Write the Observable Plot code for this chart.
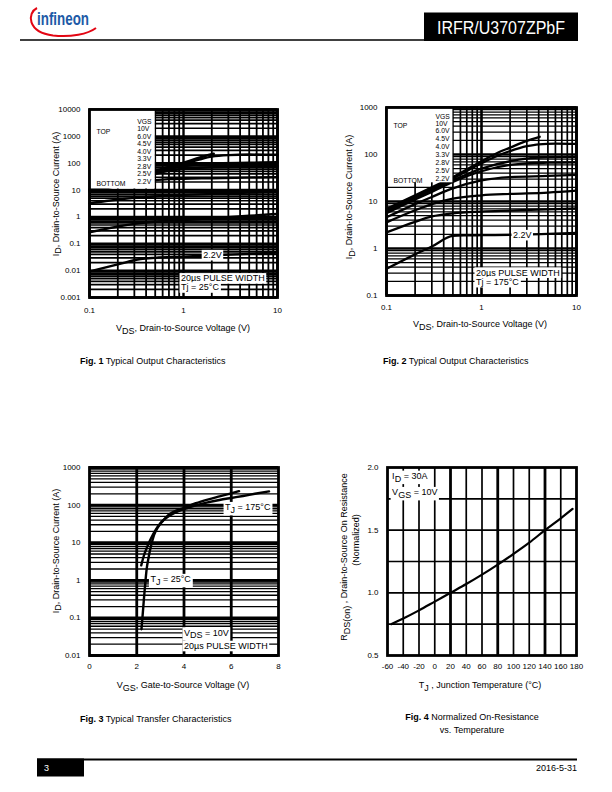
<!DOCTYPE html>
<html><head><meta charset="utf-8">
<script src="https://cdn.jsdelivr.net/npm/d3@7"></script>
<script src="https://cdn.jsdelivr.net/npm/@observablehq/plot@0.6"></script>
<style>
html,body{margin:0;padding:0;background:#fff;}
#page{position:relative;width:612px;height:792px;overflow:hidden;font-family:"Liberation Sans",Arial,Helvetica,sans-serif;color:#000;}
.fig{position:absolute;}
.fig svg{overflow:visible;}
.cap{position:absolute;font-size:9px;line-height:10px;white-space:nowrap;}
</style></head>
<body><div id="page">
<svg width="612" height="50" style="position:absolute;left:0;top:0">
  <path d="M37,8 C27,13 27,32 53,35.5 C71,37.5 88,34 96,28" fill="none" stroke="#e30613" stroke-width="2"/>
  <text x="37" y="25" font-size="18" font-weight="bold" fill="#1d5aa6" textLength="52" lengthAdjust="spacingAndGlyphs" font-family="Liberation Sans, Arial">infineon</text>
  <line x1="20" y1="40" x2="424" y2="40" stroke="#000" stroke-width="1.5"/>
  <rect x="424" y="12.5" width="154" height="28.5" fill="#000"/>
  <text x="437" y="33.5" font-size="18" fill="#fff" textLength="128" lengthAdjust="spacingAndGlyphs" font-family="Liberation Sans, Arial">IRFR/U3707ZPbF</text>
</svg>
<svg width="612" height="40" style="position:absolute;left:0;top:752px">
  <rect x="37" y="6.5" width="540" height="2" fill="#000"/>
  <rect x="37" y="6.5" width="47" height="18" fill="#000"/>
  <text x="44" y="19" fill="#fff" font-size="9" font-family="Liberation Sans, Arial">3</text>
  <text x="577" y="19" text-anchor="end" font-size="9" font-family="Liberation Sans, Arial">2016-5-31</text>
</svg>
<div class="cap" style="left:80px;top:356px"><b>Fig. 1</b> Typical Output Characteristics</div>
<div class="cap" style="left:383px;top:356px"><b>Fig. 2</b> Typical Output Characteristics</div>
<div class="cap" style="left:80px;top:714px"><b>Fig. 3</b> Typical Transfer Characteristics</div>
<div class="cap" style="left:392px;top:710.5px;width:160px;text-align:center;line-height:13px"><b>Fig. 4</b> Normalized On-Resistance<br>vs. Temperature</div>
</div>
<script>
// ---------- data ----------
const VGS_LABELS = ["10V","6.0V","4.5V","4.0V","3.3V","2.8V","2.5V","2.2V"];
const X_TICKS_VDS = [0.1, 1, 10];
const Y_TICKS_FIG1 = [0.001, 0.01, 0.1, 1, 10, 100, 1000, 10000];
const Y_TICKS_FIG2 = [0.1, 1, 10, 100, 1000];
const X_TICKS_FIG3 = [0, 2, 4, 6, 8];
const Y_TICKS_FIG3 = [0.01, 0.1, 1, 10, 100, 1000];
const X_TICKS_FIG4 = [-60,-40,-20,0,20,40,60,80,100,120,140,160,180];
const Y_TICKS_FIG4 = [0.5, 1.0, 1.5, 2.0];
const TJ_LABELS = ["25°C", "175°C"];

// Fig 1 : Tj = 25°C, [VDS, ID]
const fig1_10V = [[0.1,10.5],[0.2,21],[0.3,31],[0.5,50],[0.7,75],[1,105],[1.5,165],[2.1,225]];
const fig1_6V  = [[0.1,10.3],[0.2,20.5],[0.3,30],[0.5,48],[0.7,70],[1,95],[1.5,140],[2,175],[3,200],[5,210],[10,208]];
const fig1_45V = [[0.1,10],[0.2,19],[0.3,28],[0.5,44],[0.7,60],[1,78],[1.5,92],[2,98],[5,104],[10,108]];
const fig1_4V  = [[0.1,9.5],[0.2,18],[0.3,26],[0.5,40],[0.7,52],[1,62],[1.5,68],[2,71],[5,75],[10,78]];
const fig1_33V = [[0.1,8.5],[0.2,14.5],[0.3,19],[0.5,23.5],[0.7,25.5],[1,26.5],[2,27.5],[5,29],[10,30]];
const fig1_28V = [[0.1,3.2],[0.15,3.9],[0.2,4.4],[0.3,5.1],[0.5,5.8],[1,6.6],[2,7.2],[5,8],[10,8.7]];
const fig1_25V = [[0.1,0.27],[0.15,0.36],[0.2,0.44],[0.3,0.55],[0.5,0.66],[1,0.76],[2,0.9],[5,1.1],[10,1.3]];
const fig1_22V = [[0.1,0.0093],[0.2,0.017],[0.35,0.027],[0.5,0.03],[1,0.033],[2,0.037],[5,0.042],[10,0.047]];

// Fig 2 : Tj = 175°C, [VDS, ID]
const fig2_10V = [[0.1,7],[0.2,13.5],[0.3,20],[0.5,33],[1,72],[1.5,110],[2,140],[2.8,186],[4.1,238]];
const fig2_6V  = [[0.1,6.5],[0.2,13],[0.3,19],[0.5,31],[1,65],[1.5,95],[2,118],[3,150],[4,165],[6,170],[10,168]];
const fig2_45V = [[0.1,6],[0.2,12],[0.3,17.5],[0.5,28],[1,50],[2,72],[3,82],[5,87],[10,89]];
const fig2_4V  = [[0.1,5.6],[0.2,11],[0.3,16],[0.5,26],[1,44],[2,60],[3,65],[5,67],[10,68]];
const fig2_33V = [[0.1,4.6],[0.2,8.8],[0.3,12.5],[0.5,19],[1,28],[2,33],[5,35],[10,37]];
const fig2_28V = [[0.1,3.6],[0.2,6.5],[0.3,8.8],[0.5,11.5],[1,13.5],[2,14.5],[5,15.5],[10,17]];
const fig2_25V = [[0.1,2.2],[0.2,3.7],[0.3,4.8],[0.5,5.6],[1,6.1],[2,6.4],[5,6.8],[10,7.1]];
const fig2_22V = [[0.1,0.37],[0.2,0.75],[0.3,1.1],[0.5,1.85],[0.7,1.9],[1,1.92],[2,1.95],[5,2.05],[10,2.15]];

// Fig 3 : [VGS, ID]
const fig3_tj25  = [[2.2,0.05],[2.25,0.12],[2.3,0.3],[2.35,0.7],[2.42,2],[2.5,4],[2.6,8],[2.73,16],[2.9,26],[3.1,38],[3.3,52],[3.6,68],[4.0,85],[4.5,112],[5.0,140],[5.5,170],[6.0,205],[6.33,235]];
const fig3_tj175 = [[2.19,2.5],[2.3,4.5],[2.45,8],[2.6,13],[2.8,22],[3.0,33],[3.3,48],[3.6,62],[4.0,78],[4.5,98],[5.0,118],[5.5,137],[6.0,155],[6.5,175],[7.0,200],[7.6,232]];

// Fig 4 : normalized RDS(on) vs Tj
const fig4_tj  = [-55,-40,-20,0,20,40,60,80,100,120,140,160,175];
const fig4_rds = [0.75,0.795,0.86,0.93,1.0,1.07,1.145,1.225,1.31,1.40,1.50,1.595,1.67];

// ---------- helpers ----------
const FONT = '"Liberation Sans", Arial, Helvetica, sans-serif';
const M = {l:62, t:12, r:14, b:50};
const FIG1 = {l:89, t:109, w:188, h:188};
const FIG2 = {l:386, t:107, w:190, h:188};
const FIG3 = {l:89, t:467, w:189, h:188};
const FIG4 = {l:387, t:467, w:189, h:188};

function toRows(series, names) {
  return series.flatMap((pts, i) => pts.map(([x, y]) => ({s: names[i], x, y})));
}
function minors(e0, e1) { const v = []; for (let e = e0; e < e1; e++) for (let m = 2; m <= 9; m++) v.push(+(m * Math.pow(10, e)).toPrecision(6)); return v; }
function decades(e0, e1) { const v = []; for (let e = e0; e <= e1; e++) v.push(+Math.pow(10, e).toPrecision(6)); return v; }
function base(f) {
  return {width: M.l + f.w + M.r, height: M.t + f.h + M.b,
    marginLeft: M.l, marginTop: M.t, marginRight: M.r, marginBottom: M.b,
    style: {fontFamily: FONT, fontSize: "8px", color: "#000", background: "transparent", overflow: "visible"}};
}
function place(plot, f) {
  const div = document.createElement("div");
  div.className = "fig";
  div.style.left = (f.l - M.l) + "px";
  div.style.top = (f.t - M.t) + "px";
  div.appendChild(plot);
  document.getElementById("page").appendChild(div);
  return d3.select(plot);
}
function richText(svg, x, y, parts, opt = {}) {
  const size = opt.size || 9;
  const g = svg.append("g");
  const rect = opt.bg ? g.append("rect").attr("fill", "#fff") : null;
  const t = g.append("text").attr("font-size", size).attr("fill", "#000")
    .attr("font-family", FONT).attr("text-anchor", opt.anchor || "start");
  if (opt.rotate) t.attr("transform", `translate(${x},${y}) rotate(-90)`);
  else t.attr("x", x).attr("y", y);
  let low = false;
  for (const p of parts) {
    const sub = typeof p !== "string";
    const ts = t.append("tspan").text(sub ? p[0] : p);
    if (sub && !low) { ts.attr("dy", size * 0.32); low = true; }
    else if (!sub && low) { ts.attr("dy", -size * 0.32); low = false; }
  }
  if (rect) {
    const b = t.node().getBBox();
    rect.attr("x", b.x - 1.5).attr("y", b.y - 0.3).attr("width", b.width + 3).attr("height", b.height + 0.6);
  }
}
// annotation in data coordinates (through the plot's scales)
function note(plot, svg, xv, yv, parts, opt = {}) {
  const size = opt.size || 9;
  const px = plot.scale("x").apply(xv), py = plot.scale("y").apply(yv);
  richText(svg, px, py + size * 0.35, parts, {bg: true, ...opt});
}
// page-positioned titles
function pageText(svg, f, pageX, pageY, parts, opt = {}) {
  richText(svg, pageX - (f.l - M.l), pageY - (f.t - M.t), parts, opt);
}
function legendMarks(o) {
  const fs = 6.8;
  return [
    Plot.text(["VGS"], {frameAnchor: "top-left", dx: o.dx, dy: o.vgs, fontSize: fs, textAnchor: "start"}),
    Plot.text(["TOP"], {frameAnchor: "top-left", dx: o.dxl, dy: o.first, fontSize: fs, textAnchor: "start"}),
    Plot.text(["BOTTOM"], {frameAnchor: "top-left", dx: o.dxl, dy: o.last, fontSize: fs, textAnchor: "start"}),
    Plot.text([VGS_LABELS.join("\n")], {frameAnchor: "top-left", dx: o.dx, dy: (o.first + o.last) / 2,
      fontSize: fs, textAnchor: "start", lineAnchor: "middle", lineHeight: (o.last - o.first) / (VGS_LABELS.length - 1) / fs})
  ];
}

// ---------- Fig 1 ----------
{
  const rows = toRows([fig1_10V, fig1_6V, fig1_45V, fig1_4V, fig1_33V, fig1_28V, fig1_25V, fig1_22V], VGS_LABELS);
  const plot = Plot.plot({
    ...base(FIG1),
    x: {type: "log", domain: [0.1, 10], ticks: X_TICKS_VDS, tickFormat: d => `${d}`, tickSize: 0, tickPadding: 10, label: null},
    y: {type: "log", domain: [0.001, 10000], ticks: Y_TICKS_FIG1, tickFormat: d => `${d}`, tickSize: 0, tickPadding: 9, label: null},
    marks: [
      Plot.ruleX(minors(-1, 1), {stroke: "#000", strokeWidth: 1.8}),
      Plot.ruleX(decades(-1, 1), {stroke: "#000", strokeWidth: 2.4}),
      Plot.ruleY(minors(-3, 4), {stroke: "#000", strokeWidth: 1.7}),
      Plot.ruleY(decades(-3, 4), {stroke: "#000", strokeWidth: 2.4}),
      Plot.line(rows, {x: "x", y: "y", z: "s", stroke: "#000", strokeWidth: 2.4, curve: "monotone-x"}),
      Plot.rect([{x1: 0.1, x2: 0.5, y1: 11, y2: 10000}], {x1: "x1", x2: "x2", y1: "y1", y2: "y2", fill: "#fff"}),
      Plot.frame({stroke: "#000", strokeWidth: 2.8}),
      ...legendMarks({dx: 47.7, dxl: 7, vgs: 10, first: 19.3, last: 72})
    ]
  });
  const svg = place(plot, FIG1);
  note(plot, svg, 1.64, 0.0366, ["2.2V"]);
  note(plot, svg, 0.953, 0.0050, ["20µs PULSE WIDTH"]);
  note(plot, svg, 0.953, 0.00229, ["Tj = 25°C"]);
  pageText(svg, FIG1, 183, 331, ["V", ["DS"], ", Drain-to-Source Voltage (V)"], {anchor: "middle"});
  pageText(svg, FIG1, 58.5, 194, ["I", ["D"], ", Drain-to-Source Current (A)"], {anchor: "middle", rotate: true});
}

// ---------- Fig 2 ----------
{
  const rows = toRows([fig2_10V, fig2_6V, fig2_45V, fig2_4V, fig2_33V, fig2_28V, fig2_25V, fig2_22V], VGS_LABELS);
  const plot = Plot.plot({
    ...base(FIG2),
    x: {type: "log", domain: [0.1, 10], ticks: X_TICKS_VDS, tickFormat: d => `${d}`, tickSize: 0, tickPadding: 8.5, label: null},
    y: {type: "log", domain: [0.1, 1000], ticks: Y_TICKS_FIG2, tickFormat: d => `${d}`, tickSize: 0, tickPadding: 9, label: null},
    marks: [
      Plot.ruleX(minors(-1, 1), {stroke: "#000", strokeWidth: 1.7}),
      Plot.ruleX(decades(-1, 1), {stroke: "#000", strokeWidth: 2.6}),
      Plot.ruleY(minors(-1, 3), {stroke: "#000", strokeWidth: 1.2}),
      Plot.ruleY(decades(-1, 3), {stroke: "#000", strokeWidth: 2.4}),
      Plot.line(rows, {x: "x", y: "y", z: "s", stroke: "#000", strokeWidth: 2.3, curve: "monotone-x"}),
      Plot.rect([{x1: 0.1, x2: 0.5, y1: 25, y2: 1000}], {x1: "x1", x2: "x2", y1: "y1", y2: "y2", fill: "#fff"}),
      Plot.frame({stroke: "#000", strokeWidth: 2.8}),
      ...legendMarks({dx: 49, dxl: 7, vgs: 6.5, first: 15.5, last: 71})
    ]
  });
  const svg = place(plot, FIG2);
  note(plot, svg, 2.17, 1.89, ["2.2V"]);
  note(plot, svg, 0.886, 0.301, ["20µs PULSE WIDTH"]);
  note(plot, svg, 0.886, 0.189, ["Tj = 175°C"]);
  pageText(svg, FIG2, 480, 327, ["V", ["DS"], ", Drain-to-Source Voltage (V)"], {anchor: "middle"});
  pageText(svg, FIG2, 352, 197, ["I", ["D"], ", Drain-to-Source Current (A)"], {anchor: "middle", rotate: true});
}

// ---------- Fig 3 ----------
{
  const rows = toRows([fig3_tj25, fig3_tj175], TJ_LABELS);
  const plot = Plot.plot({
    ...base(FIG3),
    x: {type: "linear", domain: [0, 8], ticks: X_TICKS_FIG3, tickFormat: d => `${d}`, tickSize: 0, tickPadding: 8, label: null},
    y: {type: "log", domain: [0.01, 1000], ticks: Y_TICKS_FIG3, tickFormat: d => `${d}`, tickSize: 0, tickPadding: 9, label: null},
    marks: [
      Plot.ruleX([2, 4, 6], {stroke: "#000", strokeWidth: 2.8}),
      Plot.ruleY(minors(-2, 3), {stroke: "#000", strokeWidth: 1.3}),
      Plot.ruleY(decades(-2, 3), {stroke: "#000", strokeWidth: 2.8}),
      Plot.line(rows, {x: "x", y: "y", z: "s", stroke: "#000", strokeWidth: 2.4, curve: "monotone-x"}),
      Plot.frame({stroke: "#000", strokeWidth: 2.8})
    ]
  });
  const svg = place(plot, FIG3);
  note(plot, svg, 5.76, 86, ["T", ["J"], " = 175°C"]);
  note(plot, svg, 2.6, 1.05, ["T", ["J"], " = 25°C"]);
  note(plot, svg, 4.02, 0.040, ["V", ["DS"], " = 10V"]);
  note(plot, svg, 4.02, 0.0175, ["20µs PULSE WIDTH"]);
  pageText(svg, FIG3, 183, 688, ["V", ["GS"], ", Gate-to-Source Voltage (V)"], {anchor: "middle"});
  pageText(svg, FIG3, 58.5, 551, ["I", ["D"], ", Drain-to-Source Current (A)"], {anchor: "middle", rotate: true});
}

// ---------- Fig 4 ----------
{
  const rows = fig4_tj.map((t, i) => ({x: t, y: fig4_rds[i]}));
  const plot = Plot.plot({
    ...base(FIG4),
    x: {type: "linear", domain: [-60, 180], ticks: X_TICKS_FIG4, tickFormat: d => `${d}`, tickSize: 0, tickPadding: 8, label: null},
    y: {type: "linear", domain: [0.5, 2.0], ticks: Y_TICKS_FIG4, tickFormat: d => d.toFixed(1), tickSize: 0, tickPadding: 9, label: null},
    marks: [
      Plot.ruleX([-40, -20, 0, 40, 60, 100, 120, 160], {stroke: "#000", strokeWidth: 1.7}),
      Plot.ruleX([20, 80, 140], {stroke: "#000", strokeWidth: 2.8}),
      Plot.ruleY([0.75, 1.0, 1.25, 1.5, 1.75], {stroke: "#000", strokeWidth: 1.7}),
      Plot.line(rows, {x: "x", y: "y", stroke: "#000", strokeWidth: 2.2, curve: "monotone-x"}),
      Plot.frame({stroke: "#000", strokeWidth: 2.8})
    ]
  });
  const svg = place(plot, FIG4);
  note(plot, svg, -53.5, 1.93, ["I", ["D"], " = 30A"]);
  note(plot, svg, -53.5, 1.80, ["V", ["GS"], " = 10V"]);
  pageText(svg, FIG4, 480, 688, ["T", ["J"], " , Junction Temperature (°C)"], {anchor: "middle"});
  pageText(svg, FIG4, 347, 557, ["R", ["DS(on)"], " , Drain-to-Source On Resistance"], {anchor: "middle", rotate: true});
  pageText(svg, FIG4, 359, 540, ["(Normalized)"], {anchor: "middle", rotate: true});
}
</script>
</body></html>
